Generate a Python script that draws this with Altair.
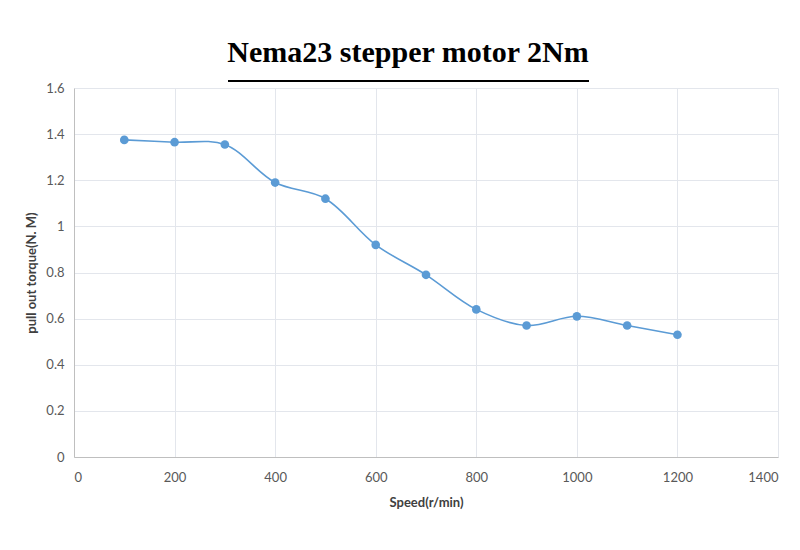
import altair as alt
import pandas as pd

# pull-out torque curve
speed = [100, 200, 300, 400, 500, 600, 700, 800, 900, 1000, 1100, 1200]
torque = [1.375, 1.365, 1.355, 1.19, 1.12, 0.92, 0.79, 0.64, 0.57, 0.61, 0.57, 0.53]
x_ticks = [0, 200, 400, 600, 800, 1000, 1200, 1400]
y_ticks = [0, 0.2, 0.4, 0.6, 0.8, 1, 1.2, 1.4, 1.6]

df = pd.DataFrame({"speed": speed, "torque": torque})

blue = "#5b9bd5"
label_font = "Lato"

base = alt.Chart(df).encode(
    x=alt.X("speed:Q", title="Speed(r/min)",
            scale=alt.Scale(domain=[0, 1400], nice=False),
            axis=alt.Axis(values=x_ticks, format="d", grid=True, ticks=False,
                          labelPadding=14, titlePadding=12)),
    y=alt.Y("torque:Q", title="pull out torque(N. M)",
            scale=alt.Scale(domain=[0, 1.6], nice=False),
            axis=alt.Axis(values=y_ticks, format="~g", grid=True, ticks=False,
                          labelPadding=10, titlePadding=7)),
)

line = base.mark_line(interpolate="catmull-rom", color=blue, strokeWidth=1.6)
points = base.mark_circle(color=blue, size=75, opacity=1)

# underline under the title
underline = alt.Chart(df).mark_rule(color="black", strokeWidth=2).encode(
    x=alt.value(154), x2=alt.value(515), y=alt.value(-7)
)

chart = alt.layer(line, points, underline).properties(
    width=704,
    height=369,
    autosize=alt.AutoSizeParams(type="none"),
    padding={"left": 66, "top": 80, "right": 14, "bottom": 70},
    title=alt.TitleParams("Nema23 stepper motor 2Nm", font="Liberation Serif",
                          fontSize=30, fontWeight="bold", color="black",
                          anchor="middle", dx=-18, offset=12),
).configure_view(
    stroke=None
).configure_axis(
    labelFont=label_font, labelFontSize=13, labelColor="#595959",
    titleFont=label_font, titleFontSize=13, titleFontWeight="bold",
    titleColor="#404040", domainColor="#bfbfbf", gridColor="#e3e6ec",
)

chart.save("out.html", embed_options={"renderer": "svg", "actions": False})
